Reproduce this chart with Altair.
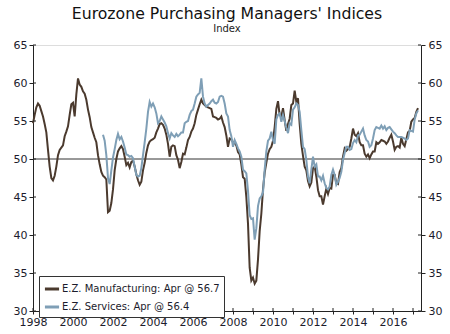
import altair as alt
import pandas as pd

# Monthly values, Jan 1998 .. Apr 2017
manufacturing = [
    # 1998
    54.7, 55.8, 56.8, 57.3, 57.0, 56.3, 55.6, 54.6, 53.5, 51.2, 49.0, 47.5,
    # 1999
    47.2, 47.8, 49.0, 50.5, 51.2, 51.5, 51.8, 53.0, 53.6, 54.3, 55.8, 57.2,
    # 2000
    57.4, 55.6, 58.5, 60.6, 59.8, 59.5, 58.9, 58.6, 57.8, 56.5, 55.5, 54.2,
    # 2001
    53.5, 52.8, 52.2, 50.5, 49.3, 48.3, 47.8, 47.6, 47.3, 43.0, 43.2, 44.2,
    # 2002
    46.0, 48.5, 50.0, 51.0, 51.4, 51.7, 51.3, 50.3, 49.2, 49.5, 48.9, 49.6,
    # 2003
    49.8, 49.0, 48.0, 47.2, 46.6, 47.0, 48.5, 49.5, 50.8, 51.8, 52.3, 52.5,
    # 2004
    52.6, 52.8, 53.5, 54.0, 54.6, 54.7, 54.5, 54.0, 53.2, 52.0, 50.3, 51.6,
    # 2005
    51.8, 51.7, 50.5, 49.9, 48.8, 49.6, 50.7, 50.6, 51.5, 52.5, 52.9, 53.6,
    # 2006
    54.0, 54.7, 55.8, 56.5, 57.2, 57.8, 57.3, 57.1, 56.9, 56.8, 56.7, 56.6,
    # 2007
    55.6, 55.5, 55.4, 55.2, 55.3, 55.6, 54.8, 54.2, 53.1, 51.6, 52.7, 52.6,
    # 2008
    52.2, 52.1, 51.8, 50.9, 50.6, 49.3, 47.6, 47.4, 45.0, 41.5, 35.7, 34.0,
    # 2009
    34.4, 33.6, 34.0, 36.8, 40.5, 42.8, 46.0, 48.2, 49.5, 50.7, 51.3, 51.6,
    # 2010
    52.4, 54.2, 56.6, 57.6, 55.8, 55.6, 56.7, 55.1, 53.7, 54.6, 55.3, 57.1,
    # 2011
    57.3, 59.0, 57.5, 58.0, 54.6, 52.0, 50.4, 49.0, 48.5, 47.1, 46.4, 46.9,
    # 2012
    48.8, 49.0, 47.7, 45.9, 45.1, 45.1, 44.0, 45.1, 46.1, 45.4, 46.2, 46.1,
    # 2013
    47.9, 47.9, 46.8, 46.7, 48.3, 48.8, 50.3, 51.4, 51.1, 51.3, 51.6, 52.7,
    # 2014
    54.0, 53.2, 53.0, 53.4, 52.2, 51.8, 51.8, 50.7, 50.3, 50.6, 50.1, 50.6,
    # 2015
    51.0, 51.0, 52.2, 52.0, 52.2, 52.5, 52.4, 52.3, 52.0, 52.3, 52.8, 53.2,
    # 2016
    52.3, 51.2, 51.6, 51.7, 51.5, 52.8, 52.0, 51.7, 52.6, 53.5, 53.7, 54.9,
    # 2017
    55.2, 55.4, 56.2, 56.7,
]

# Monthly values, Jul 2001 .. Apr 2017
services = [
    # 2001 (Jul-Dec)
    53.2, 52.4, 50.5, 47.5, 46.7, 48.5,
    # 2002
    50.2, 51.3, 52.5, 53.3, 52.6, 52.9, 52.3, 51.5, 50.6, 50.5, 50.3, 50.4,
    # 2003
    50.1, 49.0, 47.9, 47.7, 47.8, 48.8, 50.5, 52.2, 54.0, 56.2, 57.5, 56.9,
    # 2004
    57.3, 56.8, 56.0, 54.7, 55.0, 55.6, 55.2, 54.8, 54.3, 53.4, 52.7, 53.4,
    # 2005
    53.1, 52.9, 53.3, 53.0, 53.2, 53.5, 53.5, 54.7, 54.9, 55.0, 55.8, 56.3,
    # 2006
    56.5, 57.3, 58.2, 58.5, 58.7, 60.6, 58.2, 57.3, 56.9, 57.1, 57.3, 57.6,
    # 2007
    57.8, 57.4, 57.3, 57.5, 58.2, 58.3, 58.2, 57.3, 56.0, 55.6, 53.8, 53.0,
    # 2008
    51.6, 52.5, 52.0, 51.4, 51.0, 50.3, 48.6, 48.4, 48.1, 45.8, 42.6, 42.1,
    # 2009
    42.2, 39.4, 40.9, 43.8, 44.8, 45.1, 45.6, 48.6, 51.0, 52.4, 52.7, 53.6,
    # 2010
    52.5, 52.0, 55.2, 55.8, 56.0, 54.9, 55.8, 55.0, 54.1, 53.4, 54.7, 54.5,
    # 2011
    56.5, 56.8, 57.3, 57.1, 56.2, 53.8, 51.6, 51.3, 49.9, 47.7, 46.8, 48.6,
    # 2012
    50.3, 49.0, 49.3, 47.7, 47.7, 47.2, 47.8, 46.8, 46.2, 46.0, 46.4, 47.9,
    # 2013
    48.6, 47.9, 46.6, 47.0, 47.5, 48.3, 49.9, 50.8, 51.6, 51.6, 51.2, 51.3,
    # 2014
    52.1, 52.5, 52.2, 53.1, 53.2, 53.6, 54.0, 53.1, 52.5, 52.3, 51.6, 51.8,
    # 2015
    52.7, 53.8, 54.2, 54.1, 54.0, 54.4, 54.0, 54.3, 53.8, 54.1, 54.2, 53.9,
    # 2016
    53.6, 53.4, 53.1, 52.9, 52.9, 52.9, 52.8, 52.7, 52.5, 52.7, 53.8, 53.7,
    # 2017
    53.6, 55.2, 56.0, 56.4,
]

series_names = ["E.Z. Manufacturing: Apr @ 56.7", "E.Z. Services: Apr @ 56.4"]
series_colors = ["#4b3a2e", "#7f9fb6"]
y_ticks = [30, 35, 40, 45, 50, 55, 60, 65]
x_ticks = list(range(1998, 2018))
ref_level = [50]

rows = []
for i, v in enumerate(manufacturing):
    rows.append({"t": 1998 + i / 12, "v": v, "s": series_names[0]})
for i, v in enumerate(services):
    rows.append({"t": 2001.5 + i / 12, "v": v, "s": series_names[1]})
df = pd.DataFrame(rows)

FONT = "DejaVu Sans"
LBL = "#1c1c2c"
W, H = 388, 266

xscale = alt.Scale(domain=[1998, 2017.4], nice=False, zero=False)
yscale = alt.Scale(domain=[30, 65], nice=False, zero=False)

x_axis = alt.Axis(values=x_ticks,
                  labelExpr="datum.value % 2 == 0 ? format(datum.value, 'd') : ''",
                  labelFlush=False, labelOverlap=False, grid=False,
                  tickSize=3, labelPadding=2, labelFontSize=11,
                  labelFont=FONT, labelColor=LBL, domainColor="#222",
                  tickColor="#222")

lines = alt.Chart(df).mark_line(strokeWidth=2).encode(
    x=alt.X("t:Q", scale=xscale, title=None, axis=x_axis),
    y=alt.Y("v:Q", scale=yscale, title=None,
            axis=alt.Axis(orient="left", values=y_ticks, grid=False, tickSize=4,
                          labelPadding=2, labelFontSize=11, labelFont=FONT,
                          labelColor=LBL, domainColor="#222", tickColor="#222")),
    color=alt.Color("s:N", scale=alt.Scale(domain=series_names, range=series_colors),
                    legend=alt.Legend(title=None, orient="none", legendX=6, legendY=231,
                                      symbolType="stroke", symbolStrokeWidth=3,
                                      symbolSize=200, labelFontSize=10, labelFont=FONT,
                                      labelColor=LBL, strokeColor="#333", fillColor="white",
                                      padding=4, rowPadding=3, labelOffset=1)),
    order=alt.Order("t:Q"),
)

ref = alt.Chart(pd.DataFrame({"y": ref_level})).mark_rule(color="#333", strokeWidth=1).encode(
    y=alt.Y("y:Q", scale=yscale, title=None,
            axis=alt.Axis(orient="right", values=y_ticks, grid=False, tickSize=4,
                          labelPadding=3, labelFontSize=11, labelFont=FONT,
                          labelColor=LBL, domainColor="#222", tickColor="#222")),
)

ytick_df = pd.DataFrame({"y": y_ticks})
xtick_df = pd.DataFrame({"t": x_ticks})

in_left = alt.Chart(ytick_df).mark_rule(color="#222").encode(
    y=alt.Y("y:Q", scale=yscale, axis=None), x=alt.value(0), x2=alt.value(3))
in_right = alt.Chart(ytick_df).mark_rule(color="#222").encode(
    y=alt.Y("y:Q", scale=yscale, axis=None), x=alt.value(W - 3), x2=alt.value(W))
in_bottom = alt.Chart(xtick_df).mark_rule(color="#222").encode(
    x=alt.X("t:Q", scale=xscale, title=None, axis=x_axis),
    y=alt.value(H - 3), y2=alt.value(H))

chart = alt.layer(ref, lines, in_left, in_right, in_bottom).resolve_axis(
    y="independent"
).properties(
    width=W, height=H,
    padding={"left": 33, "top": 45, "right": 29, "bottom": 23},
    autosize=alt.AutoSizeParams(type="none"),
    title=alt.TitleParams(
        text="Eurozone Purchasing Managers' Indices", subtitle="Index",
        fontSize=15.7, subtitleFontSize=10, font=FONT, subtitleFont=FONT,
        fontWeight="normal", color="#111", subtitleColor="#222",
        anchor="middle", offset=4, subtitlePadding=1,
    ),
).configure_view(stroke="#222", strokeWidth=1).configure(background="white")

chart.save("out.html", embed_options={"renderer": "svg", "actions": False})
